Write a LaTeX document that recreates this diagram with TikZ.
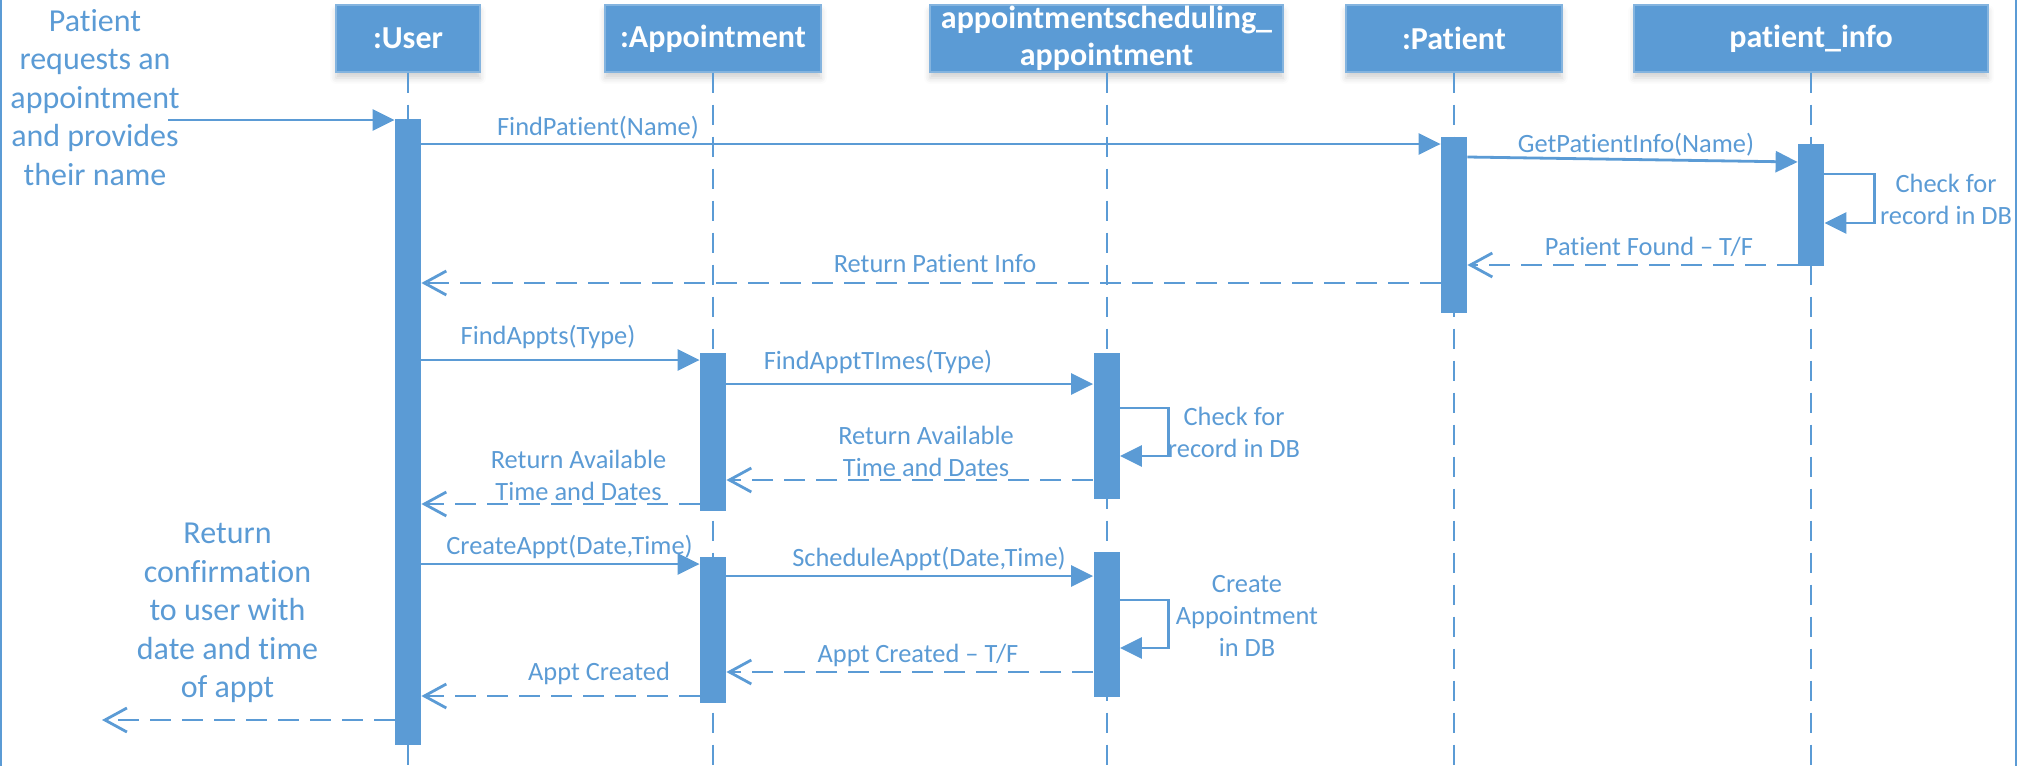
\documentclass[tikz,border=0pt]{standalone}
\usepackage{fontspec}
\setmainfont{Carlito}[Ligatures={TeX,NoCommon}]
\usetikzlibrary{arrows.meta,shadows.blur}
\definecolor{ublue}{RGB}{91,155,213}
\begin{document}
\begin{tikzpicture}[x=0.5pt,y=-0.5pt,
  head/.style={fill=ublue, draw=ublue!75!white, line width=0.6pt, text=white,
    font=\fontsize{16}{18.3}\selectfont\bfseries, align=center, inner sep=0pt,
    minimum height=33.5pt,
    blur shadow={shadow xshift=0pt, shadow yshift=-3pt, shadow opacity=18, shadow blur radius=3pt}},
  act/.style={fill=ublue, draw=none, minimum width=13pt, inner sep=0pt},
  life/.style={draw=ublue, line width=1pt, dash pattern=on 10pt off 6pt},
  call/.style={draw=ublue, line width=1.4pt, -{Triangle[length=11pt,width=10.5pt]}},
  reply/.style={draw=ublue, line width=1.4pt, dash pattern=on 10.5pt off 5.5pt,
    -{Straight Barb[length=11pt,width=12pt,line width=1.4pt]}},
  lbl/.style={text=ublue, font=\fontsize{13.2}{16}\selectfont, align=center, inner sep=0pt},
  note/.style={text=ublue, font=\fontsize{16}{19.25}\selectfont, align=center, inner sep=0pt}
]
\path[use as bounding box] (0,0) rectangle (2030,766);

% frame sides
\draw[ublue, line width=1pt] (1,0) -- (1,766);
\draw[ublue, line width=1pt] (2015.5,0) -- (2015.5,766);

% participants
\node[head, minimum width=72pt]    (hUser) at (408,38.5)    {:User};
\node[head, minimum width=108pt]   (hAppt) at (713,38.5)    {:Appointment};
\node[head, minimum width=176.5pt] (hASA)  at (1106.5,38.5) {appointmentscheduling\_\\appointment};
\node[head, minimum width=108pt]   (hPat)  at (1454,38.5)   {:Patient};
\node[head, minimum width=177pt]   (hInfo) at (1811,38.5)   {patient\_info};

% lifelines
\coordinate (bottom) at (0,766);
\foreach \h in {hUser,hAppt,hASA,hPat,hInfo}
  \draw[life] (\h.south) -- (\h.south |- bottom);

% activation bars
\node[act, minimum height=313pt]  (aUser)  at (408,432)    {};
\node[act, minimum height=88pt]   (aPat)   at (1454,225)   {};
\node[act, minimum height=61pt]   (aInfo)  at (1811,205)   {};
\node[act, minimum height=79pt]   (aAppt1) at (713,432)    {};
\node[act, minimum height=73pt]   (aASA1)  at (1106.5,426) {};
\node[act, minimum height=73pt]   (aAppt2) at (713,630)    {};
\node[act, minimum height=72.5pt] (aASA2)  at (1106.5,624.5) {};

% side notes
\node[note] (noteIn)  at (95,97.5)   {Patient\\requests an\\appointment\\and provides\\their name};
\node[note] (noteOut) at (227.5,613) {Return\\confirmation\\to user with\\date and time\\of appt};

% message rows
\coordinate (src) at (168,120);
\coordinate (r1)  at (0,144);
\coordinate (r2a) at (0,157);
\coordinate (r2b) at (0,162);
\coordinate (s1a) at (0,174);
\coordinate (s1b) at (0,223);
\coordinate (r3)  at (0,265);
\coordinate (r4)  at (0,283);
\coordinate (r5)  at (0,360);
\coordinate (r6)  at (0,384);
\coordinate (s2a) at (0,408);
\coordinate (s2b) at (0,456);
\coordinate (r7)  at (0,480);
\coordinate (r8)  at (0,504);
\coordinate (r9)  at (0,564);
\coordinate (r10) at (0,576);
\coordinate (s3a) at (0,600);
\coordinate (s3b) at (0,648);
\coordinate (r11) at (0,672);
\coordinate (r12) at (0,696);
\coordinate (dst) at (102,720);

% patient lookup
\draw[call]  (src) -- (aUser.west |- src);
\draw[call]  (aUser.east |- r1) -- (aPat.west |- r1);
\node[lbl] (l1) at (598,128) {FindPatient(Name)};
\draw[call]  (aPat.east |- r2a) -- (aInfo.west |- r2b);
\node[lbl] (l2) at (1636,145) {GetPatientInfo(Name)};
\draw[call]  (aInfo.east |- s1a) -- ++(50,0) -- ++(0,49) -- (aInfo.east |- s1b);
\node[lbl] (l3) at (1946,199) {Check for\\record in DB};
\draw[reply] (aInfo.west |- r3) -- (aPat.east |- r3);
\node[lbl] (l4) at (1649,247) {Patient Found – T/F};
\draw[reply] (aPat.west |- r4) -- (aUser.east |- r4);
\node[lbl] (l5) at (935,264) {Return Patient Info};

% available times
\draw[call]  (aUser.east |- r5) -- (aAppt1.west |- r5);
\node[lbl] (l6) at (548,337) {FindAppts(Type)};
\draw[call]  (aAppt1.east |- r6) -- (aASA1.west |- r6);
\node[lbl] (l7) at (878,362) {FindApptTImes(Type)};
\draw[call]  (aASA1.east |- s2a) -- ++(48.5,0) -- ++(0,48) -- (aASA1.east |- s2b);
\node[lbl] (l8) at (1234,432.5) {Check for\\record in DB};
\draw[reply] (aASA1.west |- r7) -- (aAppt1.east |- r7);
\node[lbl] (l9) at (926,451) {Return Available\\Time and Dates};
\draw[reply] (aAppt1.west |- r8) -- (aUser.east |- r8);
\node[lbl] (l10) at (578.5,475) {Return Available\\Time and Dates};

% booking
\draw[call]  (aUser.east |- r9) -- (aAppt2.west |- r9);
\node[lbl] (l11) at (569.5,547) {CreateAppt(Date,Time)};
\draw[call]  (aAppt2.east |- r10) -- (aASA2.west |- r10);
\node[lbl] (l12) at (929,559) {ScheduleAppt(Date,Time)};
\draw[call]  (aASA2.east |- s3a) -- ++(48.5,0) -- ++(0,48) -- (aASA2.east |- s3b);
\node[lbl] (l13) at (1247,616) {Create\\Appointment\\in DB};
\draw[reply] (aASA2.west |- r11) -- (aAppt2.east |- r11);
\node[lbl] (l14) at (918,655) {Appt Created – T/F};
\draw[reply] (aAppt2.west |- r12) -- (aUser.east |- r12);
\node[lbl] (l15) at (599,673) {Appt Created};
\draw[reply] (aUser.west |- dst) -- (dst);
\end{tikzpicture}
\end{document}
